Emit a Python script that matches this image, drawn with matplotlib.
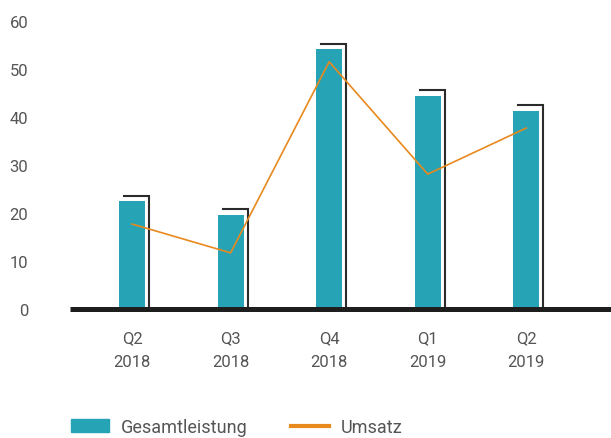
import matplotlib
matplotlib.use("Agg")
import matplotlib.pyplot as plt
from matplotlib.patches import Patch
from matplotlib.lines import Line2D

categories = ["Q2\n2018", "Q3\n2018", "Q4\n2018", "Q1\n2019", "Q2\n2019"]
gesamtleistung = [22.5, 19.6, 54.2, 44.4, 41.3]
bracket_values = [23.5, 20.8, 55.2, 45.6, 42.5]
umsatz = [17.7, 11.7, 51.5, 28.1, 37.7]
yticks = [0, 10, 20, 30, 40, 50, 60]

teal = "#26A3B5"
orange = "#E8891E"
textc = "#555555"

plt.rcParams['font.family'] = ['Roboto', 'DejaVu Sans']

fig = plt.figure(figsize=(6.11, 4.39), dpi=100)
ax = fig.add_axes([70/611, 129/439, 541/611, 288/439])

x = list(range(len(categories)))
w = 0.264
ax.bar(x, gesamtleistung, width=w, color=teal, zorder=2)
for xi, bv in zip(x, bracket_values):
    x0 = xi - w/2 + 0.05
    x1 = xi + w/2 + 0.04
    ax.plot([x0, x1, x1], [bv, bv, 0], color="#2b2b2b", lw=1.5, zorder=1,
            solid_joinstyle="miter")
ax.plot(x, umsatz, color=orange, lw=1.2, zorder=3)

ax.axhline(0, color="#1e1e1e", lw=3.6, zorder=4, clip_on=False,
           solid_capstyle="butt")
ax.set_xlim(-0.63, 4.86)
ax.set_ylim(0, 60)
ax.set_yticks(yticks)
ax.set_xticks(x)
ax.set_xticklabels(categories, linespacing=1.75)
for s in ax.spines.values():
    s.set_visible(False)
ax.tick_params(axis='both', length=0, labelsize=12, labelcolor=textc)
ax.tick_params(axis='y', pad=30)
ax.tick_params(axis='x', pad=15)

handles = [Patch(color=teal, label="Gesamtleistung"),
           Line2D([0], [0], color=orange, lw=3, label="Umsatz")]
leg = fig.legend(handles=handles, loc="center left", bbox_to_anchor=(55/611, 1 - 428/439),
                 ncol=2, frameon=False, fontsize=13, handlelength=2.1, handleheight=0.7,
                 handletextpad=0.65, columnspacing=2.4, labelcolor=textc)

fig.savefig("out.png", dpi=100)
